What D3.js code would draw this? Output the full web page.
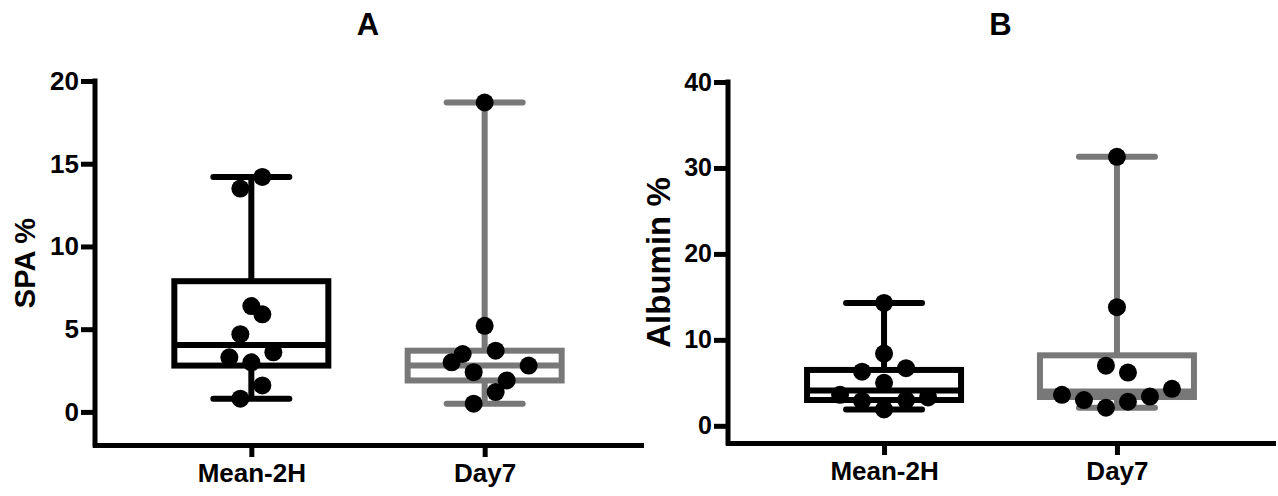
<!DOCTYPE html>
<html>
<head>
<meta charset="utf-8">
<script src="https://cdn.jsdelivr.net/npm/d3@7"></script>
<style>
  body { margin: 0; background: #fff; }
  text { font-family: "Liberation Sans", Arial, Helvetica, sans-serif; font-weight: bold; }
</style>
</head>
<body>
<div id="chart"></div>
<script>
// categories
var groups = ["Mean-2H", "Day7"];

// panel A - SPA %
var spaTicks = [0, 5, 10, 15, 20];
var spaMean2H = [14.2, 13.5, 6.4, 5.9, 4.7, 3.6, 3.3, 3.0, 1.6, 0.8];
var spaMean2HSlot = [1, -1, 0, 1, -1, 2, -2, 0, 1, -1];
var spaDay7 = [18.7, 5.2, 3.7, 3.5, 3.0, 2.8, 2.4, 1.9, 1.2, 0.5];
var spaDay7Slot = [0, 0, 1, -2, -3, 4, -1, 2, 1, -1];
var spaMin = [0.8, 0.5];
var spaQ1 = [2.8, 1.9];
var spaMedian = [4.05, 2.8];
var spaQ3 = [7.9, 3.7];
var spaMax = [14.2, 18.7];

// panel B - Albumin %
var albTicks = [0, 10, 20, 30, 40];
var albMean2H = [14.3, 8.4, 6.7, 6.3, 5.0, 3.6, 3.3, 3.0, 2.9, 1.9];
var albMean2HSlot = [0, 0, 2, -2, 0, -4, 4, 2, -2, 0];
var albDay7 = [31.3, 13.8, 7.0, 6.2, 4.3, 3.6, 3.4, 3.0, 2.8, 2.1];
var albDay7Slot = [0, 0, -1, 1, 5, -5, 3, -3, 1, -1];
var albMin = [1.9, 2.1];
var albQ1 = [3.0, 3.35];
var albMedian = [4.1, 4.0];
var albQ3 = [6.5, 8.2];
var albMax = [14.3, 31.3];

var w = 1278;
var h = 496;
var colors = ["#000", "#787878"];
var slotStep = 11;
var boxHalf = 77;
var capHalf = 38;
var dotR = 9;

var svg = d3.select("#chart")
  .append("svg")
  .attr("width", w)
  .attr("height", h);

function drawPanel(cfg) {
  var x = d3.scalePoint()
    .domain(groups)
    .range([cfg.left, cfg.right])
    .padding(0.67);

  var y = d3.scaleLinear()
    .domain([-2, d3.max(cfg.ticks)])
    .range([cfg.bottom, cfg.top]);

  var g = svg.append("g");

  // title
  g.append("text")
    .attr("x", (cfg.left + cfg.right) / 2)
    .attr("y", 35)
    .attr("text-anchor", "middle")
    .attr("font-size", "31px")
    .text(cfg.title);

  // y axis
  var yAxis = d3.axisLeft(y)
    .tickValues(cfg.ticks)
    .tickSize(14)
    .tickSizeOuter(0)
    .tickPadding(2);

  var ya = g.append("g")
    .attr("transform", "translate(" + cfg.left + ",0)")
    .call(yAxis);
  ya.select(".domain")
    .attr("d", "M0," + y(d3.max(cfg.ticks)) + "V" + cfg.bottom)
    .attr("stroke-width", 5)
    .attr("stroke-linecap", "square");
  ya.selectAll(".tick line").attr("stroke-width", 5);
  ya.selectAll(".tick text")
    .attr("font-size", cfg.tickFont)
    .attr("fill", "#000");

  // x axis
  var xAxis = d3.axisBottom(x)
    .tickSize(12)
    .tickSizeOuter(0)
    .tickPadding(7);

  var xa = g.append("g")
    .attr("transform", "translate(0," + cfg.bottom + ")")
    .call(xAxis);
  xa.select(".domain")
    .attr("stroke-width", 5)
    .attr("stroke-linecap", "square");
  xa.selectAll(".tick line").attr("stroke-width", 5);
  xa.selectAll(".tick text")
    .attr("font-size", "26px")
    .attr("fill", "#000");

  // y label
  g.append("text")
    .attr("transform", "translate(" + cfg.labelX + "," + ((cfg.top + cfg.bottom) / 2) + ") rotate(-90)")
    .attr("text-anchor", "middle")
    .attr("font-size", cfg.labelFont)
    .text(cfg.label);

  // boxes and whiskers
  groups.forEach(function(name, i) {
    var cx = x(name);
    var c = colors[i];
    var bg = g.append("g")
      .attr("stroke", c)
      .attr("stroke-width", 6);

    // whiskers
    bg.append("line")
      .attr("x1", cx).attr("x2", cx)
      .attr("y1", y(cfg.max[i])).attr("y2", y(cfg.q3[i]));
    bg.append("line")
      .attr("x1", cx).attr("x2", cx)
      .attr("y1", y(cfg.q1[i])).attr("y2", y(cfg.min[i]));

    // caps
    [cfg.max[i], cfg.min[i]].forEach(function(v) {
      bg.append("line")
        .attr("x1", cx - capHalf).attr("x2", cx + capHalf)
        .attr("y1", y(v)).attr("y2", y(v))
        .attr("stroke-linecap", "round");
    });

    // box
    bg.append("rect")
      .attr("x", cx - boxHalf)
      .attr("y", y(cfg.q3[i]))
      .attr("width", boxHalf * 2)
      .attr("height", y(cfg.q1[i]) - y(cfg.q3[i]))
      .attr("fill", "#fff");

    // median
    bg.append("line")
      .attr("x1", cx - boxHalf).attr("x2", cx + boxHalf)
      .attr("y1", y(cfg.median[i])).attr("y2", y(cfg.median[i]));
  });

  // points
  cfg.points.forEach(function(pts, i) {
    var cx = x(groups[i]);
    g.selectAll(".dot-" + i)
      .data(pts)
      .enter()
      .append("circle")
      .attr("class", "dot-" + i)
      .attr("cx", (d, j) => cx + cfg.slots[i][j] * slotStep)
      .attr("cy", (d) => y(d))
      .attr("r", dotR)
      .attr("fill", "#000");
  });
}

drawPanel({
  title: "A",
  label: "SPA %",
  labelX: 35,
  labelFont: "29px",
  tickFont: "26px",
  left: 95, right: 641, top: 81, bottom: 445,
  ticks: spaTicks,
  points: [spaMean2H, spaDay7],
  slots: [spaMean2HSlot, spaDay7Slot],
  min: spaMin, q1: spaQ1, median: spaMedian, q3: spaQ3, max: spaMax
});

drawPanel({
  title: "B",
  label: "Albumin %",
  labelX: 670,
  labelFont: "33px",
  tickFont: "25px",
  left: 728, right: 1273, top: 82, bottom: 443,
  ticks: albTicks,
  points: [albMean2H, albDay7],
  slots: [albMean2HSlot, albDay7Slot],
  min: albMin, q1: albQ1, median: albMedian, q3: albQ3, max: albMax
});
</script>
</body>
</html>
